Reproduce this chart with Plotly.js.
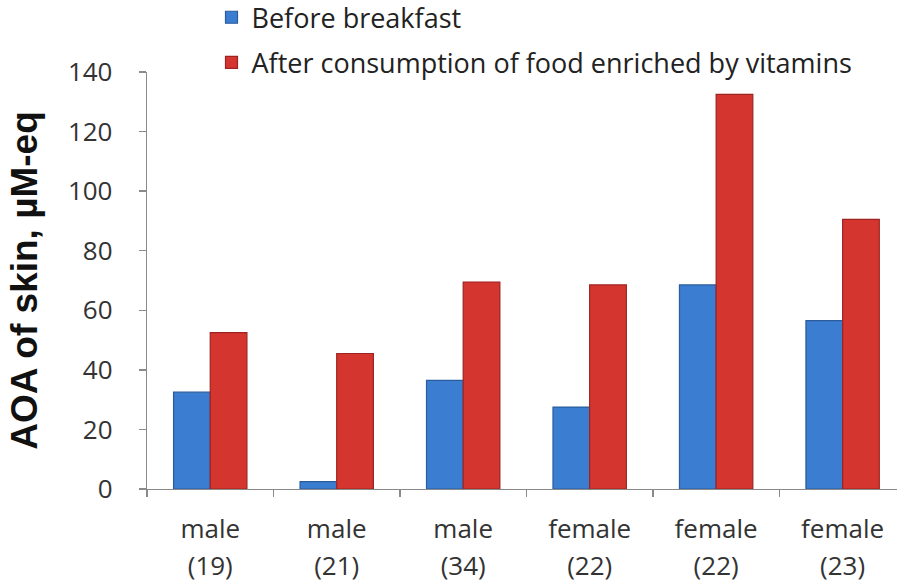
<!DOCTYPE html>
<html>
<head>
<meta charset="utf-8">
<script src="https://cdn.plot.ly/plotly-3.0.1.min.js"></script>
<style>
  html, body { margin: 0; padding: 0; background: #ffffff; }
  #chart { width: 897px; height: 585px; }
</style>
</head>
<body>
<div id="chart"></div>
<script>
// Subjects: sex and age
const sexes = ["male", "male", "male", "female", "female", "female"];
const ages = ["(19)", "(21)", "(34)", "(22)", "(22)", "(23)"];
const positions = [0, 1, 2, 3, 4, 5];
const boundaries = [-0.5, 0.5, 1.5, 2.5, 3.5, 4.5];

// Antioxidant activity of skin, µM-eq
const beforeBreakfast = [32.5, 2.5, 36.5, 27.5, 68.5, 56.5];
const afterVitamins = [52.5, 45.5, 69.5, 68.5, 132.5, 90.5];

const seriesNames = ["Before breakfast", "After consumption of food enriched by vitamins"];
const yTicks = [0, 20, 40, 60, 80, 100, 120, 140];

const baseFont = "Open Sans, Noto Sans, sans-serif";
const tickFont = { family: baseFont, size: 26, color: "#333333" };
const axisGray = "#8a8a8a";

const traces = [
  {
    type: "bar",
    name: seriesNames[0],
    x: positions,
    y: beforeBreakfast,
    legendgroup: "g1",
    marker: { color: "#3b7dd0", line: { color: "#2a5c9c", width: 1.2 } }
  },
  {
    type: "bar",
    name: seriesNames[1],
    x: positions,
    y: afterVitamins,
    legendgroup: "g2",
    marker: { color: "#d5352f", line: { color: "#9c2320", width: 1.2 } }
  },
  // empty traces so the label-only axes are drawn
  { type: "scatter", x: [], y: [], xaxis: "x2", showlegend: false, hoverinfo: "skip" },
  { type: "scatter", x: [], y: [], xaxis: "x3", showlegend: false, hoverinfo: "skip" }
];

const sharedX = {
  type: "linear",
  range: [-0.5, 5.43],
  tickmode: "array",
  showgrid: false,
  zeroline: false,
  fixedrange: true
};

const layout = {
  width: 897,
  height: 585,
  margin: { l: 147, r: 0, t: 72, b: 96, autoexpand: false },
  paper_bgcolor: "#ffffff",
  plot_bgcolor: "#ffffff",
  barmode: "group",
  bargap: 0.42,
  bargroupgap: 0,
  showlegend: true,
  legend: {
    x: 0.086, xanchor: "left",
    y: 1.189, yanchor: "top",
    orientation: "v",
    tracegroupgap: 7,
    font: { family: baseFont, size: 27, color: "#222222" },
    bgcolor: "rgba(0,0,0,0)",
    itemwidth: 30
  },
  // sex on the first label line
  xaxis: Object.assign({}, sharedX, {
    tickvals: positions,
    ticktext: sexes,
    ticks: "",
    showline: true,
    linecolor: axisGray,
    linewidth: 1.3,
    tickfont: tickFont,
    ticklabelstandoff: 16
  }),
  // age on the second label line
  xaxis2: Object.assign({}, sharedX, {
    overlaying: "x",
    anchor: "y",
    side: "bottom",
    tickvals: positions,
    ticktext: ages,
    ticks: "",
    showline: false,
    tickfont: tickFont,
    ticklabelstandoff: 59
  }),
  // tick marks between categories
  xaxis3: Object.assign({}, sharedX, {
    overlaying: "x",
    anchor: "y",
    side: "bottom",
    tickvals: boundaries,
    ticktext: boundaries.map(() => ""),
    ticks: "outside",
    ticklen: 7,
    tickcolor: axisGray,
    tickwidth: 1.3,
    showline: false
  }),
  yaxis: {
    range: [0, 140],
    tickmode: "array",
    tickvals: yTicks,
    ticks: "outside",
    ticklen: 7,
    tickcolor: axisGray,
    tickwidth: 1.3,
    showline: true,
    linecolor: axisGray,
    linewidth: 1.3,
    showgrid: false,
    zeroline: false,
    tickfont: tickFont,
    ticklabelstandoff: 21,
    title: {
      text: "AOA of skin, µM-eq",
      font: { family: "Liberation Sans, Arial, sans-serif", size: 37, color: "#111111", weight: "bold" },
      standoff: 19
    },
    automargin: false,
    fixedrange: true
  }
};

Plotly.newPlot("chart", traces, layout, { displayModeBar: false, staticPlot: true });
</script>
</body>
</html>
